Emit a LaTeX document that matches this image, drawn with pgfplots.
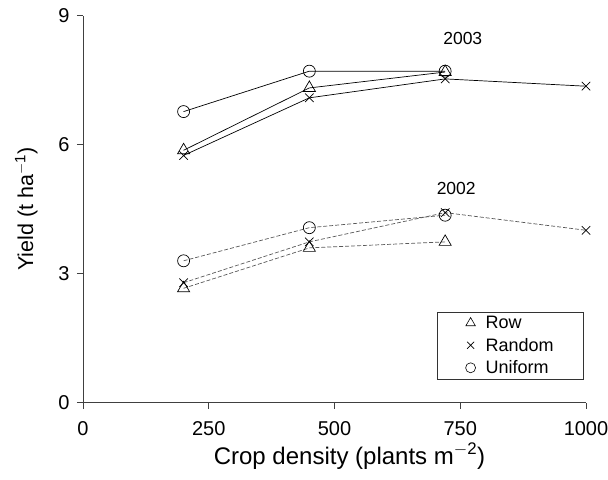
\documentclass[border=0pt]{standalone}
\usepackage{fontspec}
\setmainfont{Liberation Sans}
\usepackage{pgfplots}
\pgfplotsset{compat=1.18}
\begin{document}
\begin{tikzpicture}
\begin{axis}[
  scale only axis, width=503pt, height=387pt,
  xmin=0, xmax=1000, ymin=0, ymax=9,
  axis x line*=bottom, axis y line*=left,
  axis line style={draw=black!75, line width=0.8pt},
  xtick={0,250,500,750,1000}, ytick={0,3,6,9},
  tick align=outside, major tick length=6pt,
  tick style={draw=black!75, line width=0.8pt},
  /pgf/number format/assume math mode=true,
  ticklabel style={font=\fontsize{20}{24}\selectfont},
  scaled ticks=false,
  xticklabel style={/pgf/number format/1000 sep={}, yshift=-9pt},
  yticklabel style={xshift=-4pt},
  xlabel={Crop density (plants m$^{\mathrm{-2}}$)},
  ylabel={Yield (t ha$^{\mathrm{-1}}$)},
  xlabel style={font=\fontsize{24}{28}\selectfont, yshift=-1pt, xshift=15pt},
  ylabel style={font=\fontsize{21.5}{26}\selectfont, yshift=14pt, xshift=0pt},
  clip=false,
  every axis plot/.append style={line width=0.7pt},
  legend style={at={(rel axis cs:0.996,0.235)}, anchor=north east,
    font=\fontsize{18}{20}\selectfont, draw=black!80, line width=0.7pt,
    inner xsep=28pt, inner ysep=2pt, row sep=4pt},
  legend cell align=left,
]
% 2003 solid
\addplot[black, mark=triangle, mark size=7pt, mark options={solid,fill=white}, forget plot]
  coordinates {(200,5.87) (450,7.32) (720,7.69)};
\addplot[black, mark=x, mark size=6pt, mark options={solid}, forget plot]
  coordinates {(200,5.75) (450,7.09) (720,7.53) (1000,7.36)};
\addplot[black, mark=o, mark size=6pt, mark options={solid,fill=white}, forget plot]
  coordinates {(200,6.77) (450,7.71) (720,7.71)};
% 2002 dashed
\addplot[black!65, dash pattern=on 4pt off 2pt, mark=triangle, mark size=7pt, mark options={solid,black,fill=white}, forget plot]
  coordinates {(200,2.66) (450,3.60) (720,3.74)};
\addplot[black!65, dash pattern=on 4pt off 2pt, mark=x, mark size=6pt, mark options={solid,black}, forget plot]
  coordinates {(200,2.79) (450,3.74) (720,4.42) (1000,4.01)};
\addplot[black!65, dash pattern=on 4pt off 2pt, mark=o, mark size=6pt, mark options={solid,black,fill=white}, forget plot]
  coordinates {(200,3.30) (450,4.07) (720,4.36)};
\addlegendimage{only marks, black, mark=triangle, mark size=5.5pt, line width=0.6pt}
\addlegendentry{\hspace{8pt}Row}
\addlegendimage{only marks, black, mark=x, mark size=5pt, line width=0.6pt}
\addlegendentry{\hspace{8pt}Random\hspace{5pt}}
\addlegendimage{only marks, black, mark=o, mark size=5pt, line width=0.6pt}
\addlegendentry{\hspace{8pt}Uniform}
\node[font=\fontsize{17.5}{19}\selectfont] at (axis cs:755,8.47) {2003};
\node[font=\fontsize{17.5}{19}\selectfont] at (axis cs:742,4.99) {2002};
\coordinate (bl) at (rel axis cs:0,0);
\coordinate (tr) at (rel axis cs:1,1);
\end{axis}
\pgfresetboundingbox
\path[use as bounding box] ([xshift=-83pt,yshift=-77pt]bl) rectangle ([xshift=22pt,yshift=15.7pt]tr);
\end{tikzpicture}
\end{document}
